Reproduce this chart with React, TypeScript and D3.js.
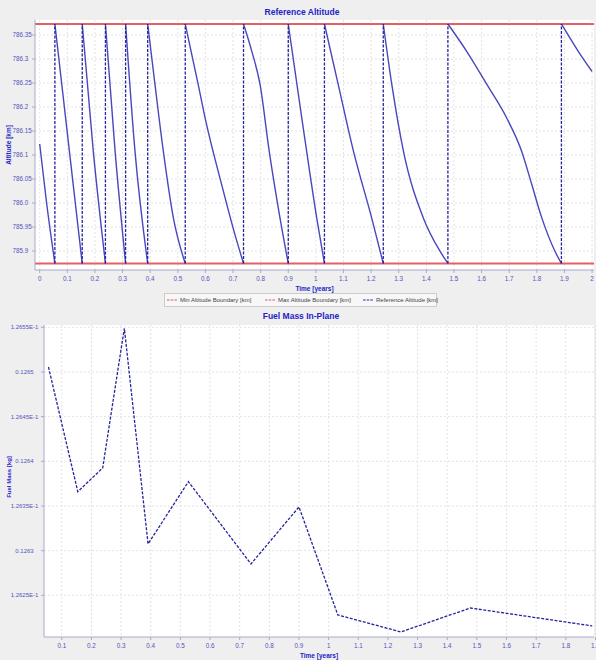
import React from "react";
import * as d3 from "d3";

// Manoeuvre epochs [years] shared by both panels
const IMPULSE_TIMES = [0.055, 0.154, 0.238, 0.311, 0.391, 0.527, 0.738, 0.9, 1.031, 1.244, 1.478, 1.889];

// Altitude control band [km]
const MIN_ALT = 785.874;
const MAX_ALT = 786.373;

// Initial and final state of the reference altitude
const START_POINT: [number, number] = [0, 786.123];
const END_POINT: [number, number] = [2.0, 786.274];

// Interior samples [time, altitude] of each decay arc between manoeuvres
const DECAY_SAMPLES: [number, number][][] = [
  [[0.025, 786.0]],
  [[0.1075, 786.108]],
  [[0.194, 786.108]],
  [[0.273, 786.108]],
  [[0.345, 786.108]],
  [[0.4175, 786.2465], [0.4476, 786.108], [0.484, 785.969]],
  [[0.574, 786.2465], [0.599, 786.177], [0.659, 786.038], [0.707, 785.934]],
  [[0.768, 786.316], [0.798, 786.2465], [0.831, 786.108], [0.87, 785.969]],
  [[0.949, 786.177], [1.003, 785.969]],
  [[1.081, 786.2465], [1.136, 786.108], [1.202, 785.969]],
  [[1.275, 786.2465], [1.317, 786.108], [1.389, 785.969], [1.45, 785.899]],
  [[1.546, 786.316], [1.6195, 786.2465], [1.691, 786.177], [1.745, 786.108], [1.782, 786.038], [1.818, 785.969], [1.866, 785.899]],
  [[1.95, 786.316]],
];

// Fuel mass consumed in-plane at each manoeuvre [kg]
const FUEL_MASS = [0.1265056, 0.126366, 0.1263926, 0.1265489, 0.1263075, 0.1263772, 0.1262851, 0.1263489, 0.126228, 0.126209, 0.1262358, 0.1262157];

// Tick values and labels
const ALT_TICKS = [786.35, 786.3, 786.25, 786.2, 786.15, 786.1, 786.05, 786.0, 785.95, 785.9];
const ALT_TICK_LABELS = ["786.35", "786.3", "786.25", "786.2", "786.15", "786.1", "786.05", "786.0", "785.95", "785.9"];
const TOP_TIME_TICKS = [0, 0.1, 0.2, 0.3, 0.4, 0.5, 0.6, 0.7, 0.8, 0.9, 1, 1.1, 1.2, 1.3, 1.4, 1.5, 1.6, 1.7, 1.8, 1.9, 2];
const TOP_TIME_LABELS = ["0", "0.1", "0.2", "0.3", "0.4", "0.5", "0.6", "0.7", "0.8", "0.9", "1", "1.1", "1.2", "1.3", "1.4", "1.5", "1.6", "1.7", "1.8", "1.9", "2"];
const FUEL_TICKS = [0.12655, 0.1265, 0.12645, 0.1264, 0.12635, 0.1263, 0.12625];
const FUEL_TICK_LABELS = ["1.2655E-1", "0.1265", "1.2645E-1", "0.1264", "1.2635E-1", "0.1263", "1.2625E-1"];
const BOTTOM_TIME_TICKS = [0.1, 0.2, 0.3, 0.4, 0.5, 0.6, 0.7, 0.8, 0.9, 1, 1.1, 1.2, 1.3, 1.4, 1.5, 1.6, 1.7, 1.8, 1.9];
const BOTTOM_TIME_LABELS = ["0.1", "0.2", "0.3", "0.4", "0.5", "0.6", "0.7", "0.8", "0.9", "1", "1.1", "1.2", "1.3", "1.4", "1.5", "1.6", "1.7", "1.8", "1.9"];

const LEGEND_ITEMS = [
  { label: "Min Altitude Boundary [km]", color: "#e05a5a" },
  { label: "Max Altitude Boundary [km]", color: "#e05a5a" },
  { label: "Reference Altitude [km]", color: "#2a2aa0" },
];

const W = 596;
const H = 660;
const FONT = "'Liberation Sans', Arial, sans-serif";
const TITLE_COLOR = "#2323c8";
const TICK_COLOR = "#5555bb";
const AXIS_COLOR = "#a9a9c9";
const GRID_COLOR = "#dcdcdc";
const LINE_COLOR = "#4848bc";
const DASH_COLOR = "#23239c";

export default function App() {
  // ---- Reference altitude panel
  const top = { left: 35, right: 594, top: 20, bottom: 270 };
  const xTop = d3.scaleLinear().domain([-0.017, 2.007]).range([top.left, top.right]);
  const yTop = d3.scaleLinear().domain([785.8604, 786.3813]).range([top.bottom, top.top]);

  const arcs: [number, number][][] = DECAY_SAMPLES.map((inner, i) => {
    const start: [number, number] = i === 0 ? START_POINT : [IMPULSE_TIMES[i - 1], MAX_ALT];
    const end: [number, number] = i < IMPULSE_TIMES.length ? [IMPULSE_TIMES[i], MIN_ALT] : END_POINT;
    return [start, ...inner, end];
  });
  const arcLine = d3
    .line<[number, number]>()
    .x((d) => xTop(d[0]))
    .y((d) => yTop(d[1]))
    .curve(d3.curveMonotoneX);

  // ---- Fuel mass panel
  const bot = { left: 44, right: 594, top: 325, bottom: 637 };
  const xBot = d3.scaleLinear().domain([0.04, 1.895]).range([bot.left, bot.right]);
  const yBot = d3.scaleLinear().domain([0.12620332, 0.12655257]).range([bot.bottom, bot.top]);
  const fuelLine = d3
    .line<number>()
    .x((_, i) => xBot(IMPULSE_TIMES[i]))
    .y((d) => yBot(d));

  const legendX = [167, 265, 363];

  return (
    <svg
      width={W}
      height={H}
      style={{ position: "absolute", left: 0, top: 0, fontFamily: FONT }}
    >
      <rect x={0} y={0} width={W} height={H} fill="#efefef" />

      {/* ===== Reference Altitude ===== */}
      <text x={302} y={15} textAnchor="middle" fontSize={8.5} fontWeight="bold" fill={TITLE_COLOR}>
        Reference Altitude
      </text>
      <rect x={top.left} y={top.top} width={top.right - top.left} height={top.bottom - top.top} fill="#ffffff" />
      {TOP_TIME_TICKS.map((t) => (
        <line key={"gx" + t} x1={xTop(t)} x2={xTop(t)} y1={top.top} y2={top.bottom} stroke={GRID_COLOR} strokeWidth={0.8} strokeDasharray="2,2" />
      ))}
      {ALT_TICKS.map((v) => (
        <line key={"gy" + v} x1={top.left} x2={top.right} y1={yTop(v)} y2={yTop(v)} stroke={GRID_COLOR} strokeWidth={0.8} strokeDasharray="2,2" />
      ))}

      {/* boundaries */}
      <line x1={top.left} x2={top.right} y1={yTop(MAX_ALT)} y2={yTop(MAX_ALT)} stroke="#e26262" strokeWidth={2} />
      <line x1={top.left} x2={top.right} y1={yTop(MIN_ALT)} y2={yTop(MIN_ALT)} stroke="#e26262" strokeWidth={2} />

      {/* reference altitude decay arcs */}
      {arcs.map((a, i) => (
        <path key={"arc" + i} d={arcLine(a) || ""} fill="none" stroke={LINE_COLOR} strokeWidth={1.4} />
      ))}
      {/* manoeuvre jumps */}
      {IMPULSE_TIMES.map((t) => (
        <line key={"jump" + t} x1={xTop(t)} x2={xTop(t)} y1={yTop(MIN_ALT)} y2={yTop(MAX_ALT)} stroke={DASH_COLOR} strokeWidth={1.3} strokeDasharray="3,1.5" />
      ))}

      {/* axes */}
      <line x1={top.left} x2={top.left} y1={top.top} y2={top.bottom} stroke={AXIS_COLOR} strokeWidth={1} />
      <line x1={top.left} x2={top.right} y1={top.bottom} y2={top.bottom} stroke={AXIS_COLOR} strokeWidth={1} />
      {ALT_TICKS.map((v, i) => (
        <g key={"ty" + v}>
          <line x1={top.left - 3} x2={top.left} y1={yTop(v)} y2={yTop(v)} stroke={AXIS_COLOR} />
          <text x={12.5} y={yTop(v) + 2.3} fontSize={6.3} fill={TICK_COLOR}>
            {ALT_TICK_LABELS[i]}
          </text>
        </g>
      ))}
      {TOP_TIME_TICKS.map((t, i) => (
        <g key={"tx" + t}>
          <line x1={xTop(t)} x2={xTop(t)} y1={top.bottom} y2={top.bottom + 3} stroke={AXIS_COLOR} />
          <text x={xTop(t)} y={280.5} textAnchor="middle" fontSize={6.3} fill={TICK_COLOR}>
            {TOP_TIME_LABELS[i]}
          </text>
        </g>
      ))}
      <text x={(top.left + top.right) / 2} y={290.5} textAnchor="middle" fontSize={6.5} fontWeight="bold" fill={TITLE_COLOR}>
        Time [years]
      </text>
      <text transform={`translate(10.5, ${(top.top + top.bottom) / 2}) rotate(-90)`} textAnchor="middle" fontSize={6.5} fontWeight="bold" fill={TITLE_COLOR}>
        Altitude [km]
      </text>

      {/* legend */}
      <rect x={164.5} y={293.5} width={272} height={13} fill="#f7f7f7" stroke="#c4c4c4" strokeWidth={0.8} />
      {LEGEND_ITEMS.map((it, i) => (
        <g key={it.label}>
          <line x1={legendX[i]} x2={legendX[i] + 10} y1={300} y2={300} stroke={it.color} strokeWidth={1.2} strokeDasharray="2.5,1.2" />
          <text x={legendX[i] + 13} y={302.2} fontSize={6} fill="#444">
            {it.label}
          </text>
        </g>
      ))}

      {/* ===== Fuel Mass In-Plane ===== */}
      <text x={301} y={319} textAnchor="middle" fontSize={8.5} fontWeight="bold" fill={TITLE_COLOR}>
        Fuel Mass In-Plane
      </text>
      <rect x={bot.left} y={bot.top} width={bot.right - bot.left} height={bot.bottom - bot.top} fill="#ffffff" />
      {BOTTOM_TIME_TICKS.map((t) => (
        <line key={"bgx" + t} x1={xBot(t)} x2={xBot(t)} y1={bot.top} y2={bot.bottom} stroke={GRID_COLOR} strokeWidth={0.8} strokeDasharray="2,2" />
      ))}
      {FUEL_TICKS.map((v) => (
        <line key={"bgy" + v} x1={bot.left} x2={bot.right} y1={yBot(v)} y2={yBot(v)} stroke={GRID_COLOR} strokeWidth={0.8} strokeDasharray="2,2" />
      ))}
      <path d={fuelLine(FUEL_MASS) || ""} fill="none" stroke={DASH_COLOR} strokeWidth={1.3} strokeDasharray="3,1.5" />

      <line x1={bot.left} x2={bot.left} y1={bot.top} y2={bot.bottom} stroke={AXIS_COLOR} strokeWidth={1} />
      <line x1={bot.left} x2={bot.right} y1={bot.bottom} y2={bot.bottom} stroke={AXIS_COLOR} strokeWidth={1} />
      {FUEL_TICKS.map((v, i) => (
        <g key={"by" + v}>
          <line x1={bot.left - 3} x2={bot.left} y1={yBot(v)} y2={yBot(v)} stroke={AXIS_COLOR} />
          <text x={24.5} y={yBot(v) + 2.2} textAnchor="middle" fontSize={6} fill={TICK_COLOR}>
            {FUEL_TICK_LABELS[i]}
          </text>
        </g>
      ))}
      {BOTTOM_TIME_TICKS.map((t, i) => (
        <g key={"bx" + t}>
          <line x1={xBot(t)} x2={xBot(t)} y1={bot.bottom} y2={bot.bottom + 3} stroke={AXIS_COLOR} />
          <text x={xBot(t)} y={648} textAnchor="middle" fontSize={6.3} fill={TICK_COLOR}>
            {BOTTOM_TIME_LABELS[i]}
          </text>
        </g>
      ))}
      <text x={(bot.left + bot.right) / 2} y={658} textAnchor="middle" fontSize={6.5} fontWeight="bold" fill={TITLE_COLOR}>
        Time [years]
      </text>
      <text transform={`translate(10.5, ${(bot.top + bot.bottom) / 2 - 4}) rotate(-90)`} textAnchor="middle" fontSize={6} fontWeight="bold" fill={TITLE_COLOR}>
        Fuel Mass [kg]
      </text>
    </svg>
  );
}
